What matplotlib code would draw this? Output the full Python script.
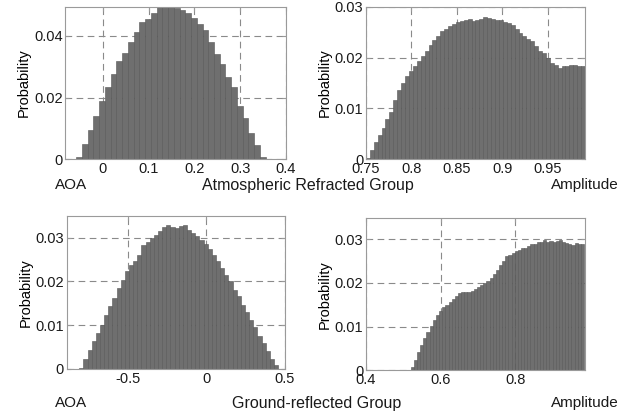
"""
Probability histograms of AOA and amplitude for the atmospheric refracted
group and the ground-reflected group (2x2 panel, MATLAB-style look).
"""
import numpy as np
import matplotlib
matplotlib.use("Agg")
import matplotlib.pyplot as plt

BAR = "#6f6f6f"
EDGE = "#555555"
GRID = "#8a8a8a"
SPINE = "#9a9a9a"
TEXT = "#1a1a1a"

plt.rcParams.update({
    "font.family": ["Liberation Sans", "DejaVu Sans"],
    "font.size": 10,
    "text.color": TEXT,
    "xtick.color": TEXT,
    "ytick.color": TEXT,
})

# --- atmospheric refracted group: AOA ---
atm_aoa_start = -0.058
atm_aoa_width = 0.01254
atm_aoa_prob = [0.0009, 0.0050, 0.0096, 0.0140, 0.0190, 0.0236, 0.0277, 0.0318,
                0.0345, 0.0380, 0.0413, 0.0444, 0.0455, 0.0473, 0.0495, 0.0497,
                0.0497, 0.0490, 0.0483, 0.0475, 0.0458, 0.0440, 0.0418, 0.0380,
                0.0342, 0.0310, 0.0266, 0.0233, 0.0173, 0.0134, 0.0085, 0.0045,
                0.0007]

# --- atmospheric refracted group: amplitude ---
atm_amp_start = 0.75
atm_amp_width = 0.0043
atm_amp_prob = [0.0002, 0.0018, 0.0035, 0.0048, 0.0062, 0.0079, 0.0094, 0.0117,
                0.0136, 0.0150, 0.0163, 0.0173, 0.0183, 0.0193, 0.0203, 0.0213,
                0.0224, 0.0234, 0.0243, 0.0252, 0.0257, 0.0262, 0.0265, 0.0270,
                0.0272, 0.0274, 0.0275, 0.0272, 0.0274, 0.0276, 0.0280, 0.0278,
                0.0275, 0.0274, 0.0274, 0.0270, 0.0268, 0.0263, 0.0257, 0.0249,
                0.0242, 0.0237, 0.0232, 0.0222, 0.0213, 0.0208, 0.0199, 0.0189,
                0.0186, 0.0180, 0.0183, 0.0184, 0.0185, 0.0185, 0.0184, 0.0184]

# --- ground-reflected group: AOA ---
gnd_aoa_start = -0.81
gnd_aoa_width = 0.02638
gnd_aoa_prob = [0.0003, 0.0023, 0.0044, 0.0063, 0.0082, 0.0101, 0.0124, 0.0143,
                0.0163, 0.0185, 0.0204, 0.0223, 0.0238, 0.0246, 0.0261, 0.0284,
                0.0290, 0.0299, 0.0307, 0.0316, 0.0324, 0.0328, 0.0324, 0.0321,
                0.0326, 0.0330, 0.0318, 0.0311, 0.0303, 0.0295, 0.0285, 0.0273,
                0.0261, 0.0246, 0.0231, 0.0215, 0.0200, 0.0181, 0.0166, 0.0147,
                0.0131, 0.0112, 0.0095, 0.0076, 0.0059, 0.0040, 0.0023, 0.0008]

# --- ground-reflected group: amplitude ---
gnd_amp_start = 0.52
gnd_amp_width = 0.00845
gnd_amp_prob = [0.0008, 0.0023, 0.0042, 0.0057, 0.0074, 0.0088, 0.0102, 0.0115,
                0.0126, 0.0135, 0.0145, 0.0149, 0.0157, 0.0163, 0.0171, 0.0176,
                0.0178, 0.0178, 0.0178, 0.0181, 0.0186, 0.0191, 0.0195, 0.0199,
                0.0204, 0.0212, 0.0220, 0.0230, 0.0240, 0.0251, 0.0261, 0.0264,
                0.0268, 0.0272, 0.0276, 0.0280, 0.0281, 0.0285, 0.0288, 0.0288,
                0.0293, 0.0294, 0.0298, 0.0294, 0.0296, 0.0293, 0.0296, 0.0298,
                0.0293, 0.0291, 0.0288, 0.0287, 0.0291, 0.0288, 0.0288]


def fmt(v):
    return "0" if v == 0 else f"{v:g}"


def hist_panel(ax, start, width, prob, xlim, ylim, xticks, yticks):
    edges = start + width * np.arange(len(prob))
    ax.bar(edges, prob, width=width, align="edge", color=BAR,
           edgecolor=EDGE, linewidth=0.4, zorder=2)
    ax.set_xlim(*xlim)
    ax.set_ylim(*ylim)
    ax.set_xticks(xticks)
    ax.set_xticklabels([fmt(v) for v in xticks])
    ax.set_yticks(yticks)
    ax.set_yticklabels([fmt(v) for v in yticks])
    ax.set_ylabel("Probability", labelpad=2, fontsize=10.5)
    # dashed grid sits behind the bars, as in the original
    ax.set_axisbelow(True)
    ax.grid(True, linestyle=(0, (6, 4)), color=GRID, linewidth=0.8)
    ax.tick_params(direction="in", length=3, top=True, right=True,
                   color=SPINE, labelsize=10.5, pad=2)
    for s in ax.spines.values():
        s.set_color(SPINE)
        s.set_linewidth(0.8)
        s.set_zorder(3)


fig = plt.figure(figsize=(6.32, 4.15), dpi=100, facecolor="white")

ax1 = fig.add_axes([0.1033, 0.616, 0.349, 0.368])
hist_panel(ax1, atm_aoa_start, atm_aoa_width, atm_aoa_prob,
           (-0.082, 0.4), (0, 0.0495), [0, 0.1, 0.2, 0.3, 0.4], [0, 0.02, 0.04])

ax2 = fig.add_axes([0.579, 0.616, 0.347, 0.368])
hist_panel(ax2, atm_amp_start, atm_amp_width, atm_amp_prob,
           (0.75, 0.991), (0, 0.03), [0.75, 0.8, 0.85, 0.9, 0.95],
           [0, 0.01, 0.02, 0.03])

ax3 = fig.add_axes([0.1055, 0.111, 0.3455, 0.369])
hist_panel(ax3, gnd_aoa_start, gnd_aoa_width, gnd_aoa_prob,
           (-0.89, 0.5), (0, 0.035), [-0.5, 0, 0.5], [0, 0.01, 0.02, 0.03])

ax4 = fig.add_axes([0.579, 0.108, 0.3465, 0.366])
hist_panel(ax4, gnd_amp_start, gnd_amp_width, gnd_amp_prob,
           (0.4, 0.987), (0, 0.0348), [0.4, 0.6, 0.8], [0, 0.01, 0.02, 0.03])

# caption rows under each pair of panels
row1 = 1 - 185 / 415
row2 = 1 - 403 / 415
fig.text(55 / 632, row1, "AOA", ha="left", va="center", fontsize=11)
fig.text(308 / 632, row1, "Atmospheric Refracted Group",
         ha="center", va="center", fontsize=11.5)
fig.text(619 / 632, row1, "Amplitude", ha="right", va="center", fontsize=11)

fig.text(55 / 632, row2, "AOA", ha="left", va="center", fontsize=11)
fig.text(317 / 632, row2, "Ground-reflected Group",
         ha="center", va="center", fontsize=11.5)
fig.text(619 / 632, row2, "Amplitude", ha="right", va="center", fontsize=11)

fig.savefig("out.png", dpi=100, facecolor="white")
